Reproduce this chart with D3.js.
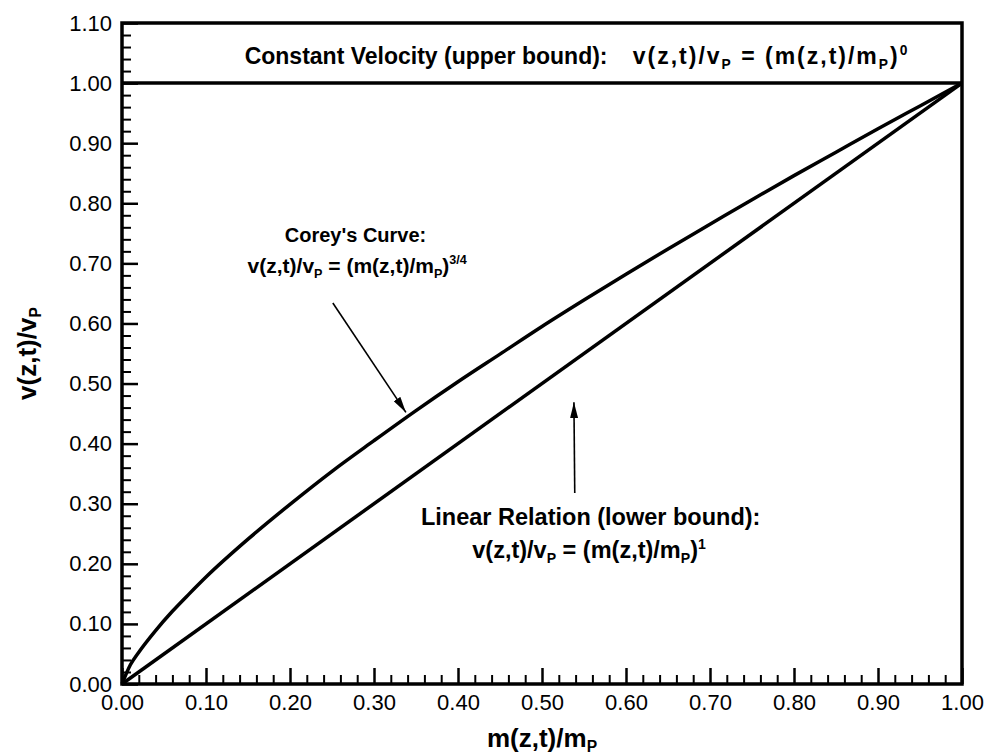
<!DOCTYPE html>
<html><head><meta charset="utf-8">
<script src="https://cdn.jsdelivr.net/npm/d3@7"></script>
<style>
html,body{margin:0;padding:0;background:#fff;}
svg{display:block;font-family:"Liberation Sans",Arial,Helvetica,sans-serif;}
</style></head>
<body>
<svg id="chart" width="988" height="754"></svg>
<script>
// ---- data ----
const xTickValues = [0,0.1,0.2,0.3,0.4,0.5,0.6,0.7,0.8,0.9,1.0];
const yTickValues = [0,0.1,0.2,0.3,0.4,0.5,0.6,0.7,0.8,0.9,1.0,1.1];
const coreyM = [0,0.01,0.02,0.04,0.06,0.08,0.10,0.15,0.20,0.25,0.30,0.35,0.40,0.45,0.50,0.55,0.60,0.65,0.70,0.75,0.80,0.85,0.90,0.95,1.00];
const coreyV = [0,0.032,0.053,0.089,0.121,0.150,0.178,0.241,0.299,0.354,0.405,0.455,0.503,0.549,0.595,0.639,0.682,0.724,0.765,0.806,0.846,0.885,0.924,0.962,1.00];
const linearM = [0,1];
const linearV = [0,1];
const constM = [0,1];
const constV = [1,1];

const W=988,H=754;
const margin={left:122,right:26,top:23,bottom:70};
const x=d3.scaleLinear().domain([0,1]).range([margin.left,W-margin.right]);
const y=d3.scaleLinear().domain([0,1.1]).range([H-margin.bottom,margin.top]);
const svg=d3.select("#chart");

const minorX=d3.range(0,51).map(i=>i*0.02).filter(v=>Math.abs(v*10-Math.round(v*10))>1e-6);
const minorY=d3.range(0,56).map(i=>i*0.02).filter(v=>Math.abs(v*10-Math.round(v*10))>1e-6);

const fmt=d3.format(".2f");
// minor ticks
svg.append("g").attr("transform",`translate(0,${y(0)})`)
  .call(d3.axisBottom(x).tickValues(minorX).tickSize(-9).tickFormat(""))
  .call(g=>{g.select(".domain").remove();g.selectAll("line").attr("stroke","#000").attr("stroke-width",2);});
svg.append("g").attr("transform",`translate(${x(0)},0)`)
  .call(d3.axisLeft(y).tickValues(minorY).tickSize(-9).tickFormat(""))
  .call(g=>{g.select(".domain").remove();g.selectAll("line").attr("stroke","#000").attr("stroke-width",2);});
// major ticks
svg.append("g").attr("transform",`translate(0,${y(0)})`)
  .call(d3.axisBottom(x).tickValues(xTickValues).tickSize(-16).tickPadding(10).tickFormat(fmt))
  .call(g=>{g.select(".domain").remove();g.selectAll("line").attr("stroke","#000").attr("stroke-width",2.5);
    g.selectAll("text").attr("font-size",22).attr("fill","#000").attr("font-family","Liberation Sans, Arial, sans-serif");});
svg.append("g").attr("transform",`translate(${x(0)},0)`)
  .call(d3.axisLeft(y).tickValues(yTickValues).tickSize(-16).tickPadding(10).tickFormat(fmt))
  .call(g=>{g.select(".domain").remove();g.selectAll("line").attr("stroke","#000").attr("stroke-width",2.5);
    g.selectAll("text").attr("font-size",22).attr("fill","#000").attr("font-family","Liberation Sans, Arial, sans-serif");});

// frame
svg.append("rect").attr("x",x(0)).attr("y",y(1.1)).attr("width",x(1)-x(0)).attr("height",y(0)-y(1.1))
  .attr("fill","none").attr("stroke","#000").attr("stroke-width",3.5);

// lines
const line=d3.line().x(d=>x(d[0])).y(d=>y(d[1]));
svg.append("path").datum(constM.map((m,i)=>[m,constV[i]])).attr("d",line)
  .attr("fill","none").attr("stroke","#000").attr("stroke-width",3.5);
svg.append("path").datum(linearM.map((m,i)=>[m,linearV[i]])).attr("d",line)
  .attr("fill","none").attr("stroke","#000").attr("stroke-width",3.5);
svg.append("path").datum(coreyM.map((m,i)=>[m,coreyV[i]])).attr("d",line.curve(d3.curveMonotoneX))
  .attr("fill","none").attr("stroke","#000").attr("stroke-width",3.5);

// arrows
const defs=svg.append("defs");
defs.append("marker").attr("id","ah").attr("viewBox","0 0 16 8").attr("refX",16).attr("refY",4)
  .attr("markerWidth",16).attr("markerHeight",8).attr("markerUnits","userSpaceOnUse").attr("orient","auto")
  .append("path").attr("d","M0,0 L16,4 L0,8 Z").attr("fill","#000");
function arrow(a,b){
  svg.append("line").attr("x1",x(a[0])).attr("y1",y(a[1])).attr("x2",x(b[0])).attr("y2",y(b[1]))
    .attr("stroke","#000").attr("stroke-width",1.6).attr("marker-end","url(#ah)");
}
arrow([0.251,0.634],[0.338,0.452]);
arrow([0.539,0.318],[0.538,0.469]);

// equation helper
function equation(sel, sup){
  sel.append("tspan").text("v(z,t)/v");
  sel.append("tspan").text("P").attr("font-size","0.6em").attr("dy",5);
  sel.append("tspan").text(" = (m(z,t)/m").attr("dy",-5);
  sel.append("tspan").text("P").attr("font-size","0.6em").attr("dy",5);
  sel.append("tspan").text(")").attr("dy",-5);
  sel.append("tspan").text(sup).attr("font-size","0.6em").attr("dy",-9);
  return sel;
}
function bold(px,py,anchor,size){
  return svg.append("text").attr("x",px).attr("y",py).attr("text-anchor",anchor)
    .attr("font-weight","bold").attr("font-size",size).attr("fill","#000");
}
// Constant velocity
bold(x(0.146),y(1.032),"start",23).text("Constant Velocity (upper bound):");
equation(bold(x(0.608),y(1.032),"start",23),"0").attr("letter-spacing",2);
// Corey
bold(x(0.278),y(0.735),"middle",20).text("Corey's Curve:");
equation(bold(x(0.28),y(0.684),"middle",21),"3/4");
// Linear
bold(x(0.558),y(0.265),"middle",23.5).text("Linear Relation (lower bound):");
equation(bold(x(0.556),y(0.210),"middle",23.5),"1");

// axis titles
const xt=bold((x(0)+x(1))/2,747,"middle",26);
xt.append("tspan").text("m(z,t)/m");
xt.append("tspan").text("P").attr("font-size","0.6em").attr("dy",5);
const yt=svg.append("text").attr("transform",`translate(36,${(y(0)+y(1.1))/2}) rotate(-90)`)
  .attr("text-anchor","middle").attr("font-weight","bold").attr("font-size",26).attr("fill","#000");
yt.append("tspan").text("v(z,t)/v");
yt.append("tspan").text("P").attr("font-size","0.6em").attr("dy",5);
</script>
</body></html>
